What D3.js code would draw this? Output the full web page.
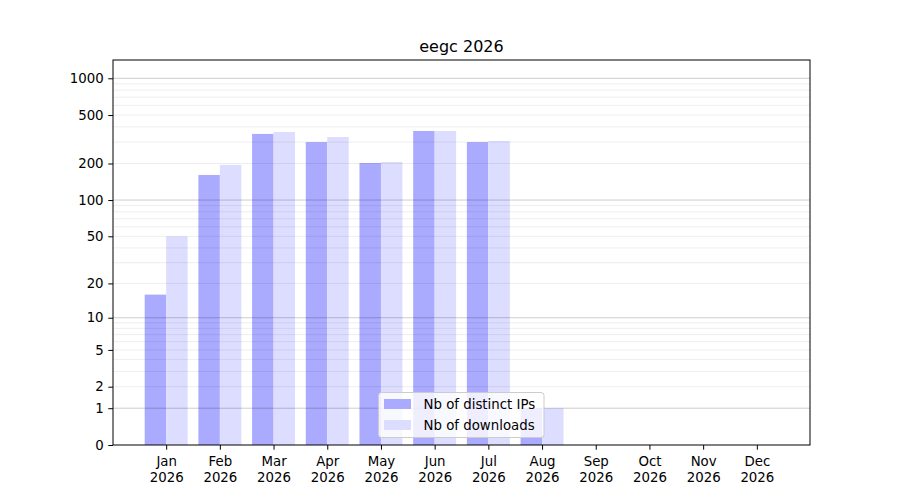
<!DOCTYPE html>
<html>
<head>
<meta charset="utf-8">
<script src="https://cdn.jsdelivr.net/npm/d3@7"></script>
<style>
  body { margin: 0; background: #fff; }
  svg { font-family: "DejaVu Sans", sans-serif; }
</style>
</head>
<body>
<div id="chart"></div>
<script>
const months = ["Jan", "Feb", "Mar", "Apr", "May", "Jun", "Jul", "Aug", "Sep", "Oct", "Nov", "Dec"];
const year = "2026";
const ips = [16, 161, 350, 300, 202, 370, 300, 1, 0, 0, 0, 0];
const downloads = [50, 195, 363, 330, 206, 370, 306, 1, 0, 0, 0, 0];
const yTicks = [0, 1, 2, 5, 10, 20, 50, 100, 200, 500, 1000];
const majorGrid = [1, 10, 100, 1000];
const minorGrid = [2, 3, 4, 5, 6, 7, 8, 9, 20, 30, 40, 50, 60, 70, 80, 90, 200, 300, 400, 500, 600, 700, 800, 900];
const seriesNames = ["Nb of distinct IPs", "Nb of downloads"];
const seriesColors = ["#aaaaff", "#ddddff"];

const W = 900, H = 500;
const margin = {top: 60, right: 90, bottom: 55, left: 113},
    width = W - margin.left - margin.right,
    height = H - margin.top - margin.bottom;

const svg = d3.select("#chart").append("svg")
    .attr("width", W)
    .attr("height", H);

const g = svg.append("g")
    .attr("transform", `translate(${margin.left}, ${margin.top})`);

const x = d3.scaleLinear()
    .domain([-0.99, months.length - 1 + 0.99])
    .range([0, width]);

const y = d3.scaleSymlog()
    .constant(1)
    .domain([0, 1412])
    .range([height, 0]);

const barW = 0.4;

// bars
g.append("g")
    .selectAll("rect")
    .data(ips)
    .join("rect")
    .attr("x", (d, i) => x(i - barW))
    .attr("width", x(barW) - x(0))
    .attr("y", d => y(d))
    .attr("height", d => height - y(d))
    .attr("fill", seriesColors[0]);

g.append("g")
    .selectAll("rect")
    .data(downloads)
    .join("rect")
    .attr("x", (d, i) => x(i))
    .attr("width", x(barW) - x(0))
    .attr("y", d => y(d))
    .attr("height", d => height - y(d))
    .attr("fill", seriesColors[1]);

// grid (drawn over bars)
g.append("g")
    .selectAll("line")
    .data(minorGrid)
    .join("line")
    .attr("x1", 0).attr("x2", width)
    .attr("y1", d => y(d)).attr("y2", d => y(d))
    .attr("stroke", "#000")
    .attr("stroke-opacity", 0.07)
    .attr("stroke-width", 1);

g.append("g")
    .selectAll("line")
    .data(majorGrid)
    .join("line")
    .attr("x1", 0).attr("x2", width)
    .attr("y1", d => y(d)).attr("y2", d => y(d))
    .attr("stroke", "#000")
    .attr("stroke-opacity", 0.2)
    .attr("stroke-width", 1);

// axes
const yAxis = g.append("g")
    .call(d3.axisLeft(y).tickValues(yTicks).tickSize(4.7).tickPadding(4.7).tickFormat(d3.format("d")));
yAxis.select(".domain").remove();
yAxis.selectAll("text")
    .attr("font-size", 13.33)
    .attr("font-family", "DejaVu Sans")
    .attr("fill", "#000");
yAxis.selectAll("line").attr("stroke", "#000");

const xAxis = g.append("g")
    .attr("transform", `translate(0, ${height})`)
    .call(d3.axisBottom(x).tickValues(d3.range(months.length)).tickSize(4.7).tickFormat(""));
xAxis.select(".domain").remove();
xAxis.selectAll("line").attr("stroke", "#000");
xAxis.selectAll(".tick")
    .append("text")
    .attr("text-anchor", "middle")
    .attr("font-size", 13.33)
    .attr("font-family", "DejaVu Sans")
    .attr("fill", "#000")
    .each(function (d) {
        const t = d3.select(this);
        t.append("tspan").attr("x", 0).attr("y", 21).text(months[d]);
        t.append("tspan").attr("x", 0).attr("y", 37).text(year);
    });

// frame
g.append("rect")
    .attr("width", width)
    .attr("height", height)
    .attr("fill", "none")
    .attr("stroke", "#000")
    .attr("stroke-width", 1);

// title
svg.append("text")
    .attr("x", margin.left + width / 2)
    .attr("y", 52)
    .attr("text-anchor", "middle")
    .attr("font-size", 16)
    .attr("fill", "#000")
    .text("eegc 2026");

// legend
const legend = svg.append("g")
    .attr("transform", "translate(378.5, 392.5)");

legend.append("rect")
    .attr("width", 165.5)
    .attr("height", 45)
    .attr("rx", 3)
    .attr("fill", "#fff")
    .attr("fill-opacity", 0.8)
    .attr("stroke", "#cccccc")
    .attr("stroke-width", 1);

const items = legend.selectAll(".item")
    .data(seriesNames)
    .join("g")
    .attr("class", "item")
    .attr("transform", (d, i) => `translate(0, ${i * 21})`);

items.append("rect")
    .attr("x", 5.5)
    .attr("y", 6.5)
    .attr("width", 27)
    .attr("height", 10)
    .attr("fill", (d, i) => seriesColors[i]);

items.append("text")
    .attr("x", 45)
    .attr("y", 16)
    .attr("font-size", 13.33)
    .attr("fill", "#000")
    .text(d => d);
</script>
</body>
</html>
